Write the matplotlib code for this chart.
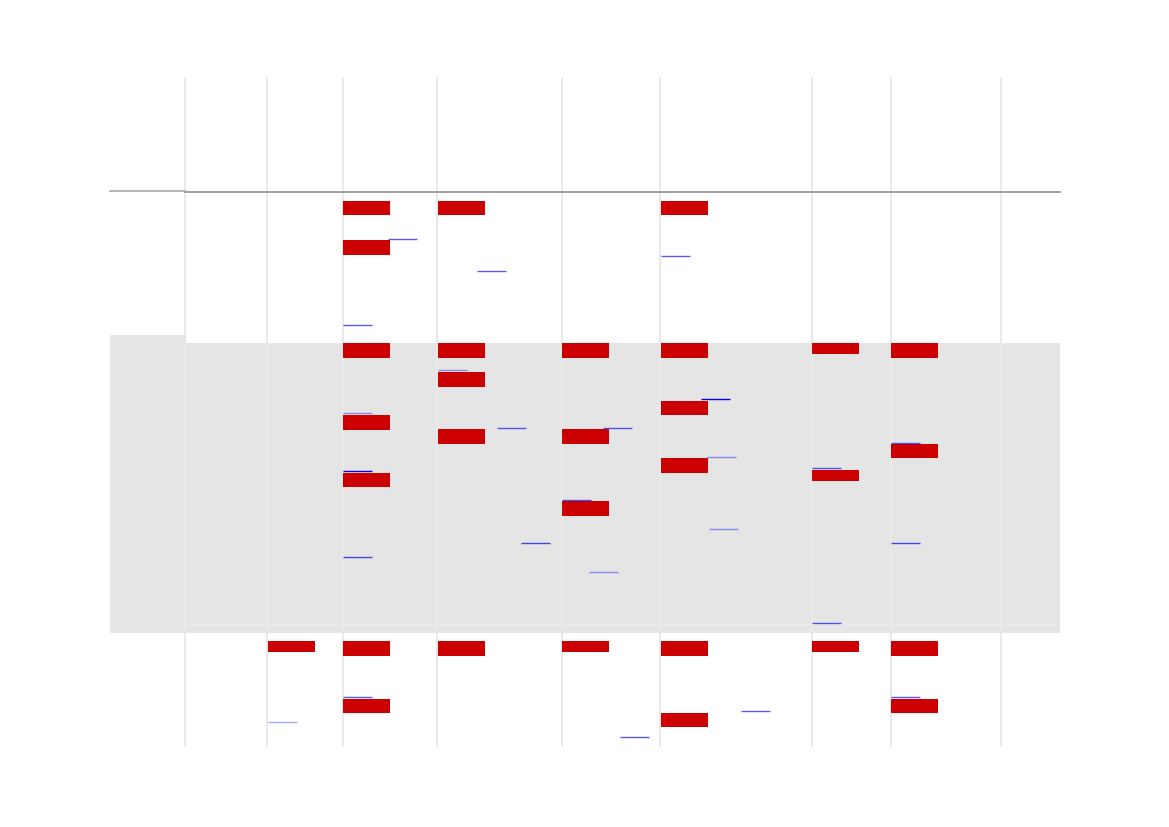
import matplotlib.pyplot as plt
from matplotlib.patches import Rectangle

# column edges of the grid (x) and its vertical span
col_edges = [184.5, 267, 342.5, 437, 561.5, 660, 811.5, 890.7, 1000.5]
grid_top, grid_bottom = 78, 746
table_left, table_right = 110, 1060
rule_y = 191.5
band_top, band_bottom, band_left_top = 343, 632.5, 335
band_line_y = 624

# red bars: start x, top y, height
bar_x = [343, 437.5, 661, 343,
         343, 437.5, 562, 661, 812, 891,
         437.5, 661, 343, 437.5, 562, 891, 661, 812, 343, 562,
         267.5, 343, 437.5, 562, 661, 812, 891, 343, 891, 661]
bar_y = [200.5, 200.5, 200.5, 240,
         343, 343, 343, 343, 343, 343,
         372, 400.5, 415, 429, 429, 443.5, 458, 469.5, 472.5, 501,
         641, 641, 641, 641, 641, 641, 641, 698.5, 698.5, 712.5]
bar_h = [14.5, 14.5, 14.5, 14.5,
         14.5, 14.5, 14.5, 14.5, 11, 14.5,
         14.5, 14.5, 14.5, 14.5, 14.5, 14.5, 14.5, 11, 14.5, 14.5,
         11, 14.5, 14.5, 11, 14.5, 11, 14.5, 14.5, 14.5, 14.5]
bar_w = 47

# thin blue marks: start x, y, opacity
tick_x = [388, 477, 343, 661,
          438, 343, 343, 343, 497, 603, 701, 707, 562, 521, 589, 709,
          812, 891, 891, 812,
          343, 268, 620, 741, 891]
tick_y = [239, 271, 325, 256,
          370, 413, 471, 557, 428, 428, 399, 456.5, 500, 543, 572, 528.5,
          467.5, 442.5, 543, 623,
          697, 722, 737, 711, 697]
tick_a = [0.65, 0.65, 0.65, 0.65,
          0.4, 0.4, 1.0, 0.7, 0.65, 0.65, 1.0, 0.4, 0.65, 0.7, 0.4, 0.4,
          0.65, 0.65, 0.7, 0.65,
          0.65, 0.35, 0.65, 0.65, 0.65]
tick_len = 29

fig = plt.figure(figsize=(11.69, 8.27), dpi=100)
ax = fig.add_axes([0, 0, 1, 1])
ax.set_xlim(0, 1169)
ax.set_ylim(827, 0)
ax.axis("off")

# grey band
ax.add_patch(Rectangle((col_edges[0], band_top), table_right - col_edges[0],
                       band_bottom - band_top, color="#e5e5e5", lw=0, zorder=1))
ax.add_patch(Rectangle((table_left, band_left_top), col_edges[0] - table_left,
                       band_bottom - band_left_top, color="#e5e5e5", lw=0, zorder=1))
ax.plot([col_edges[0], table_right], [band_line_y, band_line_y],
        color="#ececec", lw=0.9, zorder=2)

# vertical grid lines, lighter inside the band
for x in col_edges:
    ax.plot([x, x], [grid_top, band_top], color="#e3e3e3", lw=1.1, zorder=2)
    ax.plot([x, x], [band_top, band_bottom], color="#ebebeb", lw=1.1, zorder=2)
    ax.plot([x, x], [band_bottom, grid_bottom], color="#e3e3e3", lw=1.1, zorder=2)

# horizontal rule
ax.plot([table_left, col_edges[0]], [rule_y - 1, rule_y - 1], color="#a0a0a0", lw=1.1, zorder=3)
ax.plot([col_edges[0], table_right], [rule_y, rule_y], color="#a0a0a0", lw=1.4, zorder=3)

for x, y, h in zip(bar_x, bar_y, bar_h):
    ax.add_patch(Rectangle((x, y), bar_w, h, facecolor="#cc0000",
                           edgecolor="none", zorder=4))

for x, y, a in zip(tick_x, tick_y, tick_a):
    ax.plot([x, x + tick_len], [y, y], color="#0000ee", alpha=a,
            lw=1.0, solid_capstyle="butt", zorder=5)

fig.savefig("out.png", dpi=100)
